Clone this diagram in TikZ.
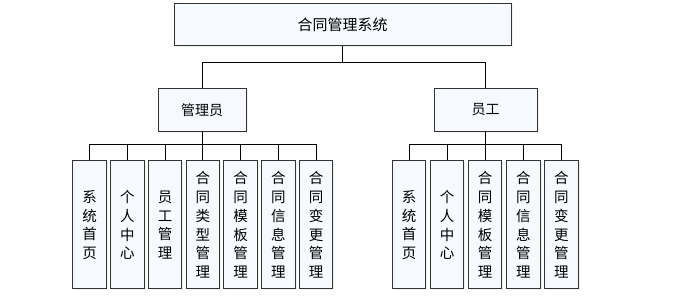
\documentclass[tikz,border=0pt]{standalone}
\usepackage{fontspec}
\setmainfont{Noto Sans CJK SC}
\usetikzlibrary{positioning, shadows}
\definecolor{boxfill}{RGB}{246,249,253}
\tikzstyle{sysbox} = [rectangle, draw=black!80, line width=1pt, fill=boxfill, text centered, inner sep=0pt, drop shadow={opacity=0.12, shadow xshift=1.5pt, shadow yshift=-1.5pt}]
\tikzstyle{rootbox} = [sysbox, minimum width=337pt, minimum height=42pt, font=\fontsize{15}{18}\selectfont]
\tikzstyle{rolebox} = [sysbox, minimum height=43pt, font=\fontsize{14}{16}\selectfont]
\tikzstyle{funcbox} = [sysbox, minimum width=33.5pt, minimum height=128pt, align=center, font=\fontsize{14.5}{18.8}\selectfont]
\tikzstyle{link} = [line width=1pt, black]

\begin{document}
\begin{tikzpicture}[x=1pt, y=-1pt]
        \useasboundingbox (0,0) rectangle (694,304);
        \node[rootbox] (sys) at (342.5,25) {合同管理系统};
        \node[rolebox, minimum width=88pt] (admin) at (202,110) {管理员};
        \node[rolebox, minimum width=103pt] (staff) at (485.5,110) {员工};

        % admin functions
        \node[funcbox] (a1) at (89.5,225) {系\\统\\首\\页};
        \node[funcbox, right=3.25pt of a1] (a2) {个\\人\\中\\心};
        \node[funcbox, right=3.25pt of a2] (a3) {员\\工\\管\\理};
        \node[funcbox, right=3.25pt of a3] (a4) {合\\同\\类\\型\\管\\理};
        \node[funcbox, right=3.25pt of a4] (a5) {合\\同\\模\\板\\管\\理};
        \node[funcbox, right=3.25pt of a5] (a6) {合\\同\\信\\息\\管\\理};
        \node[funcbox, right=3.25pt of a6] (a7) {合\\同\\变\\更\\管\\理};

        % staff functions
        \node[funcbox] (s1) at (409,225) {系\\统\\首\\页};
        \node[funcbox, right=3.6pt of s1] (s2) {个\\人\\中\\心};
        \node[funcbox, right=3.6pt of s2] (s3) {合\\同\\模\\板\\管\\理};
        \node[funcbox, right=3.6pt of s3] (s4) {合\\同\\信\\息\\管\\理};
        \node[funcbox, right=3.6pt of s4] (s5) {合\\同\\变\\更\\管\\理};

        \draw[link] (sys.south) -- ++(0,16) -| (admin.north);
        \draw[link] (sys.south) -- ++(0,16) -| (staff.north);
        \foreach \i in {1,...,7}
            \draw[link] (admin.south) -- ++(0,13) -| (a\i.north);
        \foreach \i in {1,...,5}
            \draw[link] (staff.south) -- ++(0,13) -| (s\i.north);
    \end{tikzpicture}
\end{document}
